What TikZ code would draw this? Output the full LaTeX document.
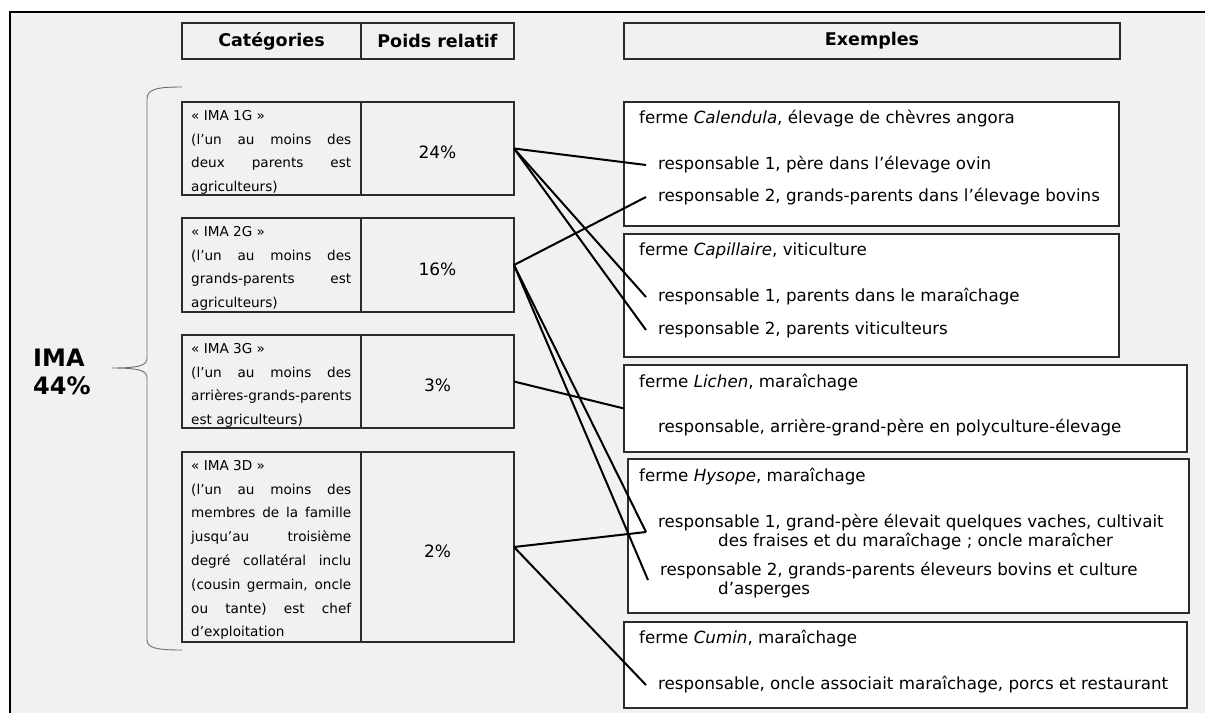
\documentclass[tikz,border=0pt]{standalone}
\usepackage{fontspec}
\setmainfont{DejaVu Sans}
\usetikzlibrary{positioning,calc}
\definecolor{framegrey}{HTML}{F1F1F1}
\definecolor{boxline}{HTML}{2B2B2B}
\definecolor{bracegrey}{HTML}{6E6E6E}
\tikzset{
  % tableau de gauche
  hd/.style={draw=boxline,line width=1.7pt,anchor=north west,inner sep=0pt,outer sep=0pt,
             minimum height=36pt,font=\fontsize{17.5}{21}\selectfont\bfseries},
  cat/.style={draw=boxline,line width=1.7pt,anchor=north west,inner sep=0pt,outer sep=0pt,
              minimum width=179pt},
  wt/.style={draw=boxline,line width=1.7pt,inner sep=0pt,outer sep=0pt,minimum width=153pt,
             font=\fontsize{17}{20}\selectfont,text height=20pt,text depth=0pt},
  ctxt/.style={anchor=north west,inner sep=0pt,align=left,font=\fontsize{13.6}{23.8}\selectfont},
  % exemples
  ex/.style={draw=boxline,fill=white,line width=1.7pt,anchor=north west,inner sep=0pt,outer sep=0pt},
  ferme/.style={anchor=west,inner sep=0pt,font=\fontsize{16.7}{19.5}\selectfont},
  resp/.style={anchor=west,inner xsep=12pt,inner ysep=0pt,align=left,font=\fontsize{16.7}{19.5}\selectfont},
  lien/.style={draw=black,line width=2pt},
}
\newcommand{\jl}[1]{\makebox[160pt][s]{#1}}

\begin{document}
\begin{tikzpicture}[x=1pt,y=-1pt]
  \useasboundingbox[fill=white] (0,0) rectangle (1205,713);
  \fill[framegrey] (10,12) rectangle (1205,713);
  \draw[line width=2pt] (10,713) -- (10,12) -- (1205,12);
  % en-tetes
  \node[hd,minimum width=179pt] (hcat) at (182,23) {Catégories};
  \node[hd,minimum width=153pt,right=0pt of hcat] (hpoids) {Poids relatif};
  \node[hd,minimum width=496pt] (hex) at (624,23) {Exemples};
  % categories
  \node[cat,minimum height=93pt] (c1) at (182,102) {};
  \node[wt,minimum height=93pt,right=0pt of c1] (w1) {24\%};
  \node[cat,minimum height=94pt] (c2) at (182,218) {};
  \node[wt,minimum height=94pt,right=0pt of c2] (w2) {16\%};
  \node[cat,minimum height=93pt] (c3) at (182,335) {};
  \node[wt,minimum height=93pt,right=0pt of c3] (w3) {3\%};
  \node[cat,minimum height=190pt] (c4) at (182,452) {};
  \node[wt,minimum height=190pt,right=0pt of c4] (w4) {2\%};
  \node[ctxt] (t1) at ([shift={(9,8)}]c1.north west)
    {« IMA 1G »\\\jl{(l’un au moins des}\\\jl{deux parents est}\\agriculteurs)};
  \node[ctxt] (t2) at ([shift={(9,8)}]c2.north west)
    {« IMA 2G »\\\jl{(l’un au moins des}\\\jl{grands-parents est}\\agriculteurs)};
  \node[ctxt] (t3) at ([shift={(9,8)}]c3.north west)
    {« IMA 3G »\\\jl{(l’un au moins des}\\arrières-grands-parents\\est agriculteurs)};
  \node[ctxt] (t4) at ([shift={(9,8)}]c4.north west)
    {« IMA 3D »\\\jl{(l’un au moins des}\\\jl{membres de la famille}\\\jl{jusqu’au troisième}\\
     \jl{degré collatéral inclu}\\\jl{(cousin germain, oncle}\\\jl{ou tante) est chef}\\d’exploitation};
  % accolade
  \coordinate (tip) at (112,368);
  \draw[bracegrey,line width=0.9pt] (182,87) .. controls (157,87) and (147,89) .. (147,99)
    -- (147,358) .. controls (147,365) and (141,368) .. (tip)
    .. controls (141,368) and (147,371) .. (147,378)
    -- (147,640) .. controls (147,648) and (157,650) .. (182,650);
  \node[anchor=west,inner sep=0pt,align=left,font=\fontsize{24}{28}\selectfont\bfseries] (ima) at (33,372) {IMA\\44\%};
  % exemples
  \node[ex,minimum width=495pt,minimum height=124pt] (calendula) at (624,102) {};
  \node[ferme] (f1) at (639,119) {ferme \textit{Calendula}, élevage de chèvres angora};
  \node[resp] (r11) at (646,165) {responsable 1, père dans l’élevage ovin};
  \node[resp] (r12) at (646,197) {responsable 2, grands-parents dans l’élevage bovins};
  \node[ex,minimum width=495pt,minimum height=123pt] (capillaire) at (624,234) {};
  \node[ferme] (f2) at (639,251) {ferme \textit{Capillaire}, viticulture};
  \node[resp] (r21) at (646,297) {responsable 1, parents dans le maraîchage};
  \node[resp] (r22) at (646,330) {responsable 2, parents viticulteurs};
  \node[ex,minimum width=563pt,minimum height=87pt] (lichen) at (624,365) {};
  \node[ferme] (f3) at (639,383) {ferme \textit{Lichen}, maraîchage};
  \node[resp] (r31) at (646,428) {responsable, arrière-grand-père en polyculture-élevage};
  \node[ex,minimum width=561pt,minimum height=154pt] (hysope) at (628,459) {};
  \node[ferme] (f4) at (639,477) {ferme \textit{Hysope}, maraîchage};
  \node[resp] (r41) at (646,532) {responsable 1, grand-père élevait quelques vaches, cultivait\\
    \hspace*{60pt}des fraises et du maraîchage ; oncle maraîcher};
  \node[resp] (r42) at (648,580) {responsable 2, grands-parents éleveurs bovins et culture\\
    \hspace*{58pt}d’asperges};
  \node[ex,minimum width=563pt,minimum height=86pt] (cumin) at (624,622) {};
  \node[ferme] (f5) at (639,639) {ferme \textit{Cumin}, maraîchage};
  \node[resp] (r51) at (646,685) {responsable, oncle associait maraîchage, porcs et restaurant};
  % liens
  \draw[lien] (w1.east) -- (r11.west);
  \draw[lien] (w1.east) -- (r21.west);
  \draw[lien] (w1.east) -- (r22.west);
  \draw[lien] (w2.east) -- (r12.west);
  \draw[lien] (w2.east) -- (r41.west);
  \draw[lien] (w2.east) -- (r42.west);
  \draw[lien] (w3.east) -- (lichen.west);
  \draw[lien] (w4.east) -- (r41.west);
  \draw[lien] (w4.east) -- (r51.west);
\end{tikzpicture}
\end{document}
